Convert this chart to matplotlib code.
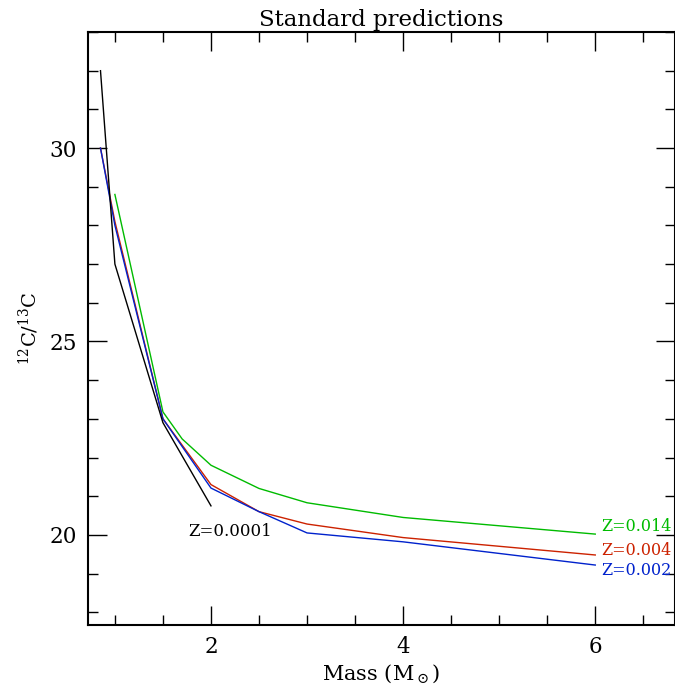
import matplotlib
matplotlib.use("Agg")
import matplotlib.pyplot as plt
from matplotlib.ticker import MultipleLocator

plt.rcParams['font.family'] = ['DejaVu Serif']
plt.rcParams['mathtext.fontset'] = 'dejavuserif'

# Data
mass_z0001 = [0.85, 1.0, 1.5, 2.0]
ratio_z0001 = [32.0, 27.0, 22.9, 20.75]

mass_z002 = [0.85, 1.0, 1.5, 2.0, 2.5, 3.0, 4.0, 6.0]
ratio_z002 = [30.0, 28.0, 23.0, 21.21, 20.6, 20.05, 19.82, 19.22]

mass_z004 = [0.85, 1.0, 1.5, 2.0, 2.5, 3.0, 4.0, 6.0]
ratio_z004 = [30.0, 28.1, 23.0, 21.3, 20.6, 20.28, 19.93, 19.48]

mass_z014 = [1.0, 1.5, 1.7, 2.0, 2.5, 3.0, 4.0, 6.0]
ratio_z014 = [28.8, 23.18, 22.48, 21.8, 21.2, 20.83, 20.45, 20.02]

labels = ["Z=0.0001", "Z=0.002", "Z=0.004", "Z=0.014"]
colors = ["black", "#0022cc", "#cc2200", "#00bb00"]

fig = plt.figure(figsize=(6.75, 6.9), dpi=100)
ax = fig.add_axes([88/675, 1 - 625/690, (675 - 88)/675, (625 - 32)/690])

ax.plot(mass_z014, ratio_z014, color=colors[3], lw=1)
ax.plot(mass_z004, ratio_z004, color=colors[2], lw=1)
ax.plot(mass_z002, ratio_z002, color=colors[1], lw=1)
ax.plot(mass_z0001, ratio_z0001, color=colors[0], lw=1)

ax.text(1.76, 20.1, labels[0], color=colors[0], fontsize=12, va='center')
ax.text(6.06, 20.22, labels[3], color=colors[3], fontsize=11.5, va='center')
ax.text(6.06, 19.6, labels[2], color=colors[2], fontsize=11.5, va='center')
ax.text(6.06, 19.09, labels[1], color=colors[1], fontsize=11.5, va='center')

ax.set_xlim(0.72, 6.83)
ax.set_ylim(17.67, 33.0)

ax.xaxis.set_major_locator(MultipleLocator(2))
ax.xaxis.set_minor_locator(MultipleLocator(0.5))
ax.yaxis.set_major_locator(MultipleLocator(5))
ax.yaxis.set_minor_locator(MultipleLocator(1))
ax.tick_params(which='both', direction='in', top=True, right=True, width=1)
ax.tick_params(which='major', length=14, labelsize=15.5, pad=8)
ax.tick_params(which='minor', length=7)
for s in ax.spines.values():
    s.set_linewidth(1.5)

ax.set_title("Standard predictions", fontsize=16.5, pad=4)
ax.set_xlabel(r"Mass (M$_\odot$)", fontsize=15, labelpad=3)
ax.set_ylabel(r"$^{12}$C/$^{13}$C", fontsize=14, labelpad=6)

fig.savefig("out.png", dpi=100)
